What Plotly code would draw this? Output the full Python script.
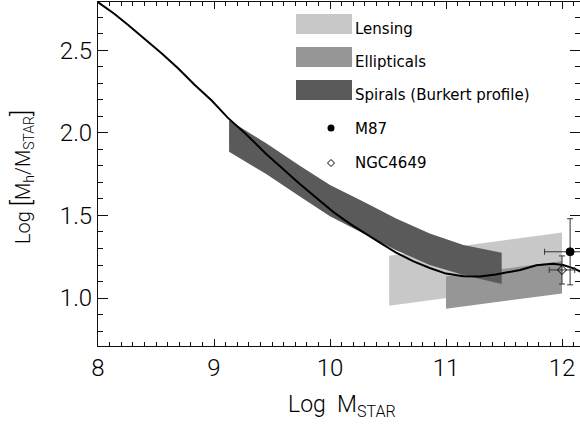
import plotly.graph_objects as go

# ---------------- data ----------------
curve_x = [8.0, 8.14, 8.26, 8.40, 8.55, 8.69, 8.83, 8.98, 9.12, 9.27, 9.45, 9.74,
           10.03, 10.17, 10.30, 10.43, 10.57, 10.72, 10.86, 11.0, 11.15, 11.29,
           11.43, 11.55, 11.64, 11.78, 11.92, 12.01, 12.10, 12.16]
curve_y = [2.79, 2.72, 2.652, 2.571, 2.48, 2.39, 2.292, 2.195, 2.09, 1.996, 1.872, 1.690,
           1.520, 1.450, 1.390, 1.335, 1.275, 1.222, 1.182, 1.148, 1.132, 1.130,
           1.143, 1.158, 1.170, 1.198, 1.208, 1.200, 1.180, 1.160]

spiral_x = [9.13, 9.45, 9.74, 10.0, 10.29, 10.57, 10.86, 11.15, 11.48]
spiral_top = [2.075, 1.936, 1.80, 1.684, 1.583, 1.482, 1.391, 1.321, 1.274]
spiral_bot = [1.885, 1.75, 1.615, 1.495, 1.39, 1.29, 1.20, 1.14, 1.085]

lensing_x = [10.51, 12.0]
lensing_top = [1.256, 1.397]
lensing_bot = [0.953, 1.094]

ellip_x = [11.0, 12.0]
ellip_top = [1.13, 1.224]
ellip_bot = [0.935, 1.028]

point_names = ["M87", "NGC4649"]
point_x = [12.07, 12.0]
point_y = [1.28, 1.17]
point_xerr = [0.22, 0.11]
point_yerr = [0.20, 0.085]

x_ticks = [8, 9, 10, 11, 12]
y_ticks = [1.0, 1.5, 2.0, 2.5]

# ---------------- style ----------------
C_LENS = "#c8c8c8"
C_ELL = "#969696"
C_SPI = "#5a5a5a"
FONT = "Roboto"
LEGFONT = "DejaVu Sans"

W, H = 580, 425
ML, MR, MT, MB = 98, 0, 2, 79
PW, PH = W - ML - MR, H - MT - MB

def fx(p):  # pixel x -> paper
    return (p - ML) / PW

def fy(p):  # pixel y -> paper
    return (H - MB - p) / PH

def band(x, top, bot):
    return list(x) + list(x)[::-1], list(top) + list(bot)[::-1]

fig = go.Figure()

for (bx, bt, bb, col) in [(lensing_x, lensing_top, lensing_bot, C_LENS),
                          (ellip_x, ellip_top, ellip_bot, C_ELL),
                          (spiral_x, spiral_top, spiral_bot, C_SPI)]:
    px_, py_ = band(bx, bt, bb)
    fig.add_trace(go.Scatter(x=px_, y=py_, fill="toself", fillcolor=col,
                             mode="lines", line=dict(width=0, color=col),
                             hoverinfo="skip", showlegend=False))

fig.add_trace(go.Scatter(x=curve_x, y=curve_y, mode="lines",
                         line=dict(color="black", width=2),
                         showlegend=False))

symbols = ["circle", "diamond-open"]
for i in range(len(point_names)):
    fig.add_trace(go.Scatter(
        x=[point_x[i]], y=[point_y[i]], mode="markers", name=point_names[i],
        marker=dict(symbol=symbols[i], size=8 if i == 0 else 7, color="black",
                    line=dict(width=1, color="black")),
        error_x=dict(type="data", array=[point_xerr[i]], color="#333", thickness=1, width=3),
        error_y=dict(type="data", array=[point_yerr[i]], color="#333", thickness=1, width=3),
        showlegend=False))

shapes = []
annots = []
leg_rows = [("Lensing", C_LENS, 14, 34), ("Ellipticals", C_ELL, 47, 67),
            ("Spirals (Burkert profile)", C_SPI, 80, 100)]
for name, col, y0, y1 in leg_rows:
    shapes.append(dict(type="rect", xref="paper", yref="paper",
                       x0=fx(296), x1=fx(352), y0=fy(y1), y1=fy(y0),
                       fillcolor=col, line=dict(width=0), layer="above"))
    annots.append(dict(x=fx(353), y=fy((y0 + y1) / 2 + 5), xref="paper", yref="paper",
                       text=name, showarrow=False, xanchor="left", yanchor="middle",
                       font=dict(family=LEGFONT, size=15, color="black")))
# M87 legend marker (filled circle)
shapes.append(dict(type="circle", xref="paper", yref="paper",
                   x0=fx(327.5), x1=fx(334.5), y0=fy(131.5), y1=fy(124.5),
                   fillcolor="black", line=dict(width=0)))
annots.append(dict(x=fx(353), y=fy(128.5), xref="paper", yref="paper", text="M87",
                   showarrow=False, xanchor="left", yanchor="middle",
                   font=dict(family=LEGFONT, size=15, color="black")))
# NGC4649 legend marker (open diamond)
d = 3.5
shapes.append(dict(type="path", xref="paper", yref="paper",
                   path=f"M {fx(331)} {fy(163-d)} L {fx(331+d)} {fy(163)} L {fx(331)} {fy(163+d)} L {fx(331-d)} {fy(163)} Z",
                   fillcolor="white", line=dict(width=1, color="black")))
annots.append(dict(x=fx(353), y=fy(162.5), xref="paper", yref="paper", text="NGC4649",
                   showarrow=False, xanchor="left", yanchor="middle",
                   font=dict(family=LEGFONT, size=15, color="black")))

# axis titles
annots.append(dict(x=fx(342), y=fy(406), xref="paper", yref="paper",
                   text="Log  M<sub>STAR</sub>", showarrow=False,
                   xanchor="center", yanchor="middle",
                   font=dict(family=FONT, size=23, color="black", weight=300)))
annots.append(dict(x=fx(21), y=fy(177), xref="paper", yref="paper",
                   text="Log <span style='font-size:26px'>[</span>M<sub>h</sub>/M<sub>STAR</sub><span style='font-size:26px'>]</span>",
                   showarrow=False,
                   textangle=-90, xanchor="center", yanchor="middle",
                   font=dict(family=FONT, size=20, color="black", weight=300)))

x_range = [8.0, 8.0 + PW / 116.0]
y_range = [0.71, 0.71 + PH / 165.3]

fig.update_layout(
    width=W, height=H, margin=dict(l=ML, r=MR, t=MT, b=MB, pad=0),
    paper_bgcolor="white", plot_bgcolor="white",
    showlegend=False, shapes=shapes, annotations=annots,
    font=dict(family=FONT, color="black"),
    xaxis=dict(range=x_range, tickvals=x_ticks, ticktext=[str(v) for v in x_ticks],
               ticks="inside", ticklen=7, tickwidth=1, tickcolor="#111",
               showline=True, linecolor="#111", linewidth=1, mirror="ticks",
               showgrid=False, zeroline=False,
               tickfont=dict(family=FONT, size=24, color="black", weight=300),
               minor=dict(dtick=0.1, ticks="inside", ticklen=4, tickcolor="#111", showgrid=False)),
    yaxis=dict(range=y_range, tickvals=y_ticks, ticktext=["1.0", "1.5", "2.0", "2.5"],
               ticks="inside", ticklen=10, tickwidth=1, tickcolor="#111",
               showline=True, linecolor="#111", linewidth=1, mirror="ticks",
               showgrid=False, zeroline=False,
               tickfont=dict(family=FONT, size=24, color="black", weight=300),
               minor=dict(dtick=0.1, ticks="inside", ticklen=5, tickcolor="#111", showgrid=False)),
)

fig.write_html("out.html",
               config={"displayModeBar": False},
               post_script="document.documentElement.style.margin='0';"
                           "document.body.style.margin='0';"
                           "document.body.style.overflow='hidden';")
